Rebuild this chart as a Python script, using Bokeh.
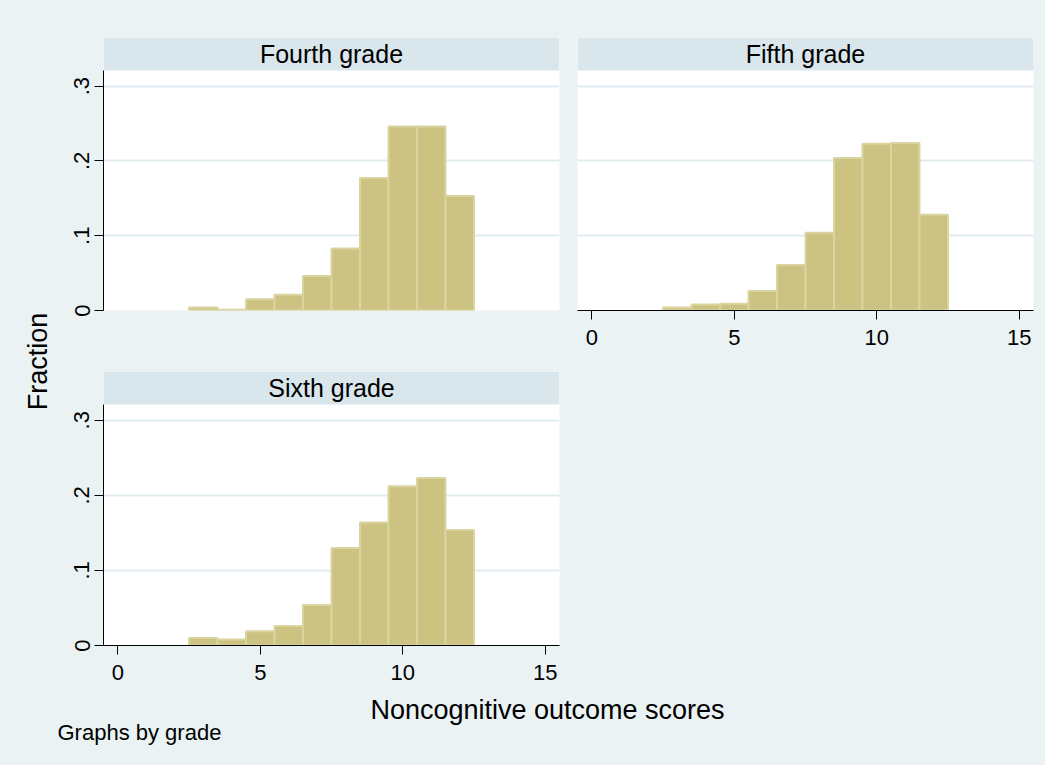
import math
from bokeh.plotting import figure
from bokeh.layouts import column, row
from bokeh.models import Range1d, Label, FixedTicker
from bokeh.embed import file_html
from bokeh.resources import INLINE

# ---- data ----
bins = [3, 4, 5, 6, 7, 8, 9, 10, 11, 12]
fourth = [0.004, 0.001, 0.015, 0.021, 0.046, 0.083, 0.177, 0.246, 0.246, 0.153]
fifth = [0.004, 0.008, 0.009, 0.026, 0.061, 0.104, 0.204, 0.223, 0.224, 0.128]
sixth = [0.010, 0.008, 0.019, 0.026, 0.054, 0.130, 0.164, 0.212, 0.223, 0.154]
titles = ["Fourth grade", "Fifth grade", "Sixth grade"]
x_ticks = [0, 5, 10, 15]
y_ticks = [0, 0.1, 0.2, 0.3]
y_tick_labels = ["0", ".1", ".2", ".3"]
x_title = "Noncognitive outcome scores"
y_title = "Fraction"
note = "Graphs by grade"

# ---- style ----
FONT = "Liberation Sans"
BG = "#EAF2F3"
STRIP = "#D9E6EB"
GRID = "#E2EBEF"
BAR_FILL = "#CCC382"
BAR_LINE = "#D9D4A0"
Y_END = 0.365
STRIP_BOTTOM = 0.321
BG_STYLE = {"background-color": BG}


def make_panel(title, values, width, height, mb, show_x, show_y):
    p = figure(width=width, height=height, output_backend="svg", toolbar_location=None,
               x_range=Range1d(-0.5, 15.5), y_range=Range1d(0, Y_END),
               min_border_left=mb[0], min_border_right=mb[1],
               min_border_top=mb[2], min_border_bottom=mb[3])
    p.background_fill_color = "white"
    p.border_fill_color = BG
    p.outline_line_color = None
    p.xgrid.visible = False
    p.ygrid.ticker = FixedTicker(ticks=y_ticks[1:])
    p.ygrid.grid_line_color = GRID
    p.ygrid.grid_line_width = 2

    p.vbar(x=bins, top=values, width=1.0, bottom=0,
           fill_color=BAR_FILL, line_color=BAR_LINE, line_width=2)

    # strip header
    p.quad(left=[-0.5], right=[15.5], bottom=[STRIP_BOTTOM], top=[Y_END],
           fill_color=STRIP, line_color=None)
    p.add_layout(Label(x=7.5, y=(STRIP_BOTTOM + Y_END) / 2, text=title,
                       text_align="center", text_baseline="middle",
                       text_font=FONT, text_font_size="25px", text_color="black"))

    # axes
    for ax in p.xaxis:
        ax.visible = show_x
        ax.ticker = FixedTicker(ticks=x_ticks)
        ax.major_label_text_font = FONT
        ax.major_label_text_font_size = "22px"
        ax.major_label_text_color = "black"
        ax.major_tick_out = 9
        ax.major_tick_in = 0
        ax.minor_tick_out = 0
        ax.minor_tick_in = 0
        ax.major_label_standoff = 10
        ax.axis_line_color = "black"
        ax.major_tick_line_color = "black"
    for ax in p.yaxis:
        ax.visible = show_y
        ax.ticker = FixedTicker(ticks=y_ticks)
        ax.major_label_overrides = {t: l for t, l in zip(y_ticks, y_tick_labels)}
        ax.major_label_orientation = "vertical"
        ax.major_label_text_font = FONT
        ax.major_label_text_font_size = "22px"
        ax.major_label_text_color = "black"
        ax.major_tick_out = 9
        ax.major_tick_in = 0
        ax.minor_tick_out = 0
        ax.minor_tick_in = 0
        ax.major_label_standoff = 5
        ax.axis_line_color = "black"
        ax.major_tick_line_color = "black"
        ax.bounds = (0, STRIP_BOTTOM)
    return p


def blank(width, height):
    p = figure(width=width, height=height, output_backend="svg", toolbar_location=None,
               x_range=Range1d(0, width), y_range=Range1d(0, height),
               min_border=0)
    p.background_fill_color = BG
    p.border_fill_color = BG
    p.outline_line_color = None
    p.axis.visible = False
    p.grid.visible = False
    return p


p1 = make_panel(titles[0], fourth, 516, 357, (51, 9, 37, 47), False, True)
p2 = make_panel(titles[1], fifth, 477, 357, (9, 12, 37, 47), True, False)
p3 = make_panel(titles[2], sixth, 516, 330, (51, 9, 14, 42), True, True)
p4 = blank(477, 330)

left = blank(52, 687)
left.add_layout(Label(x=37, y=687 - 361, text=y_title, angle=math.pi / 2,
                      text_align="center", text_baseline="middle",
                      text_font=FONT, text_font_size="27px", text_color="black"))

bottom = blank(1045, 78)
bottom.add_layout(Label(x=547, y=56, text=x_title, text_align="center",
                        text_baseline="alphabetic", text_font=FONT,
                        text_font_size="27px", text_color="black"))
bottom.add_layout(Label(x=57, y=33, text=note, text_align="left",
                        text_baseline="alphabetic", text_font=FONT,
                        text_font_size="22px", text_color="black"))

grid = column(row(p1, p2, spacing=0, styles=BG_STYLE),
              row(p3, p4, spacing=0, styles=BG_STYLE),
              spacing=0, styles=BG_STYLE)
layout = column(row(left, grid, spacing=0, styles=BG_STYLE), bottom,
                spacing=0, styles=BG_STYLE)

open("out.html", "w").write(file_html(layout, INLINE))
